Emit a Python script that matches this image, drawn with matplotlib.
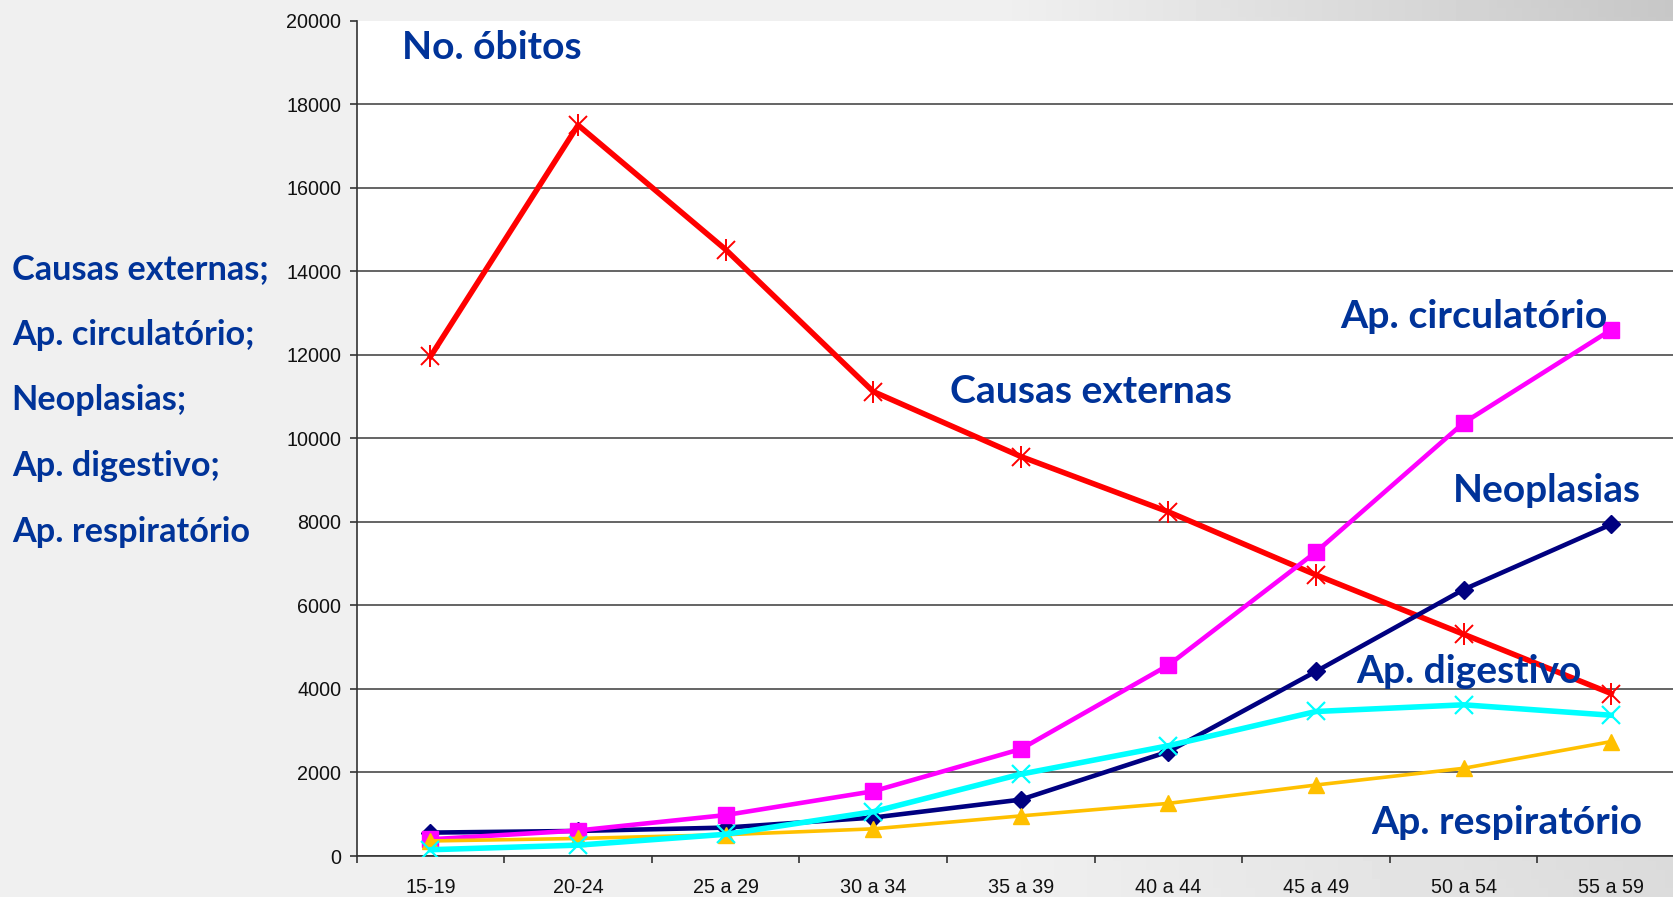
import matplotlib
matplotlib.use("Agg")
import matplotlib.pyplot as plt
import numpy as np

# faixas etarias e numero de obitos por causa
categorias = ['15-19', '20-24', '25 a 29', '30 a 34', '35 a 39',
              '40 a 44', '45 a 49', '50 a 54', '55 a 59']
causas_externas = [11960, 17500, 14520, 11120, 9565, 8240, 6730, 5310, 3890]
ap_circulatorio = [400, 610, 980, 1550, 2560, 4570, 7280, 10370, 12600]
neoplasias = [560, 600, 680, 920, 1350, 2500, 4420, 6380, 7940]
ap_digestivo = [150, 260, 520, 1060, 1960, 2640, 3460, 3620, 3370]
ap_respiratorio = [360, 420, 510, 650, 960, 1260, 1700, 2100, 2740]

W, H = 1673, 897
AZUL = '#003399'

fig = plt.figure(figsize=(W / 100, H / 100), dpi=100)

# fundo cinza claro, mais escuro no canto direito
bg = fig.add_axes([0, 0, 1, 1], zorder=-1)
gx = np.linspace(0, 1, 200)
gy = np.linspace(0, 1, 100)
GX, GY = np.meshgrid(gx, gy)
grad = 0.94 - 0.16 * np.clip((GX - 0.6) / 0.4, 0, 1) * (0.5 + 0.5 * (1 - GY))
bg.imshow(grad, cmap='gray', vmin=0, vmax=1, aspect='auto', extent=[0, 1, 0, 1])
bg.axis('off')

left, right, bottom, top = 356.7, 1685, 856, 20.7
ax = fig.add_axes([left / W, 1 - bottom / H, (right - left) / W, (bottom - top) / H])
ax.set_facecolor('white')

x = np.arange(len(categorias))

ax.plot(x, causas_externas, color='#FF0000', lw=4, zorder=3)
ax.plot(x, causas_externas, ls='none', marker='x', ms=13, mew=1.4, color='#FF0000', zorder=3)
ax.plot(x, causas_externas, ls='none', marker='|', ms=16, mew=1.4, color='#FF0000', zorder=3)
ax.plot(x, neoplasias, color='#000080', lw=3.3, marker='D', ms=9, zorder=4)
ax.plot(x, ap_circulatorio, color='#FF00FF', lw=3.3, marker='s', ms=12, zorder=5)
ax.plot(x, ap_respiratorio, color='#FFC000', lw=2.6, marker='^', ms=11, zorder=6)
ax.plot(x, ap_digestivo, color='#00FFFF', lw=4, marker='x', ms=13, mew=1.6, zorder=7)

ax.set_xlim(-0.5, len(categorias) - 0.5)
ax.set_ylim(0, 20000)
ax.set_yticks(np.arange(0, 20001, 2000))
ax.set_xticks(x)
ax.set_xticklabels(categorias)
ax.set_xticks(np.arange(-0.5, len(categorias), 1), minor=True)

ax.yaxis.grid(True, color='#4a4a4a', lw=1.2)
ax.get_ygridlines()[-1].set_visible(False)
ax.set_axisbelow(True)

for s in ['top', 'right']:
    ax.spines[s].set_visible(False)
for s in ['left', 'bottom']:
    ax.spines[s].set_color('#333333')
    ax.spines[s].set_linewidth(1.2)

ax.tick_params(axis='x', which='major', length=0, pad=16, labelsize=14.2)
ax.tick_params(axis='x', which='minor', length=5, width=1.2, color='#333333')
ax.tick_params(axis='y', length=5, width=1.2, color='#333333', pad=6, labelsize=14.2)
for lab in ax.get_xticklabels() + ax.get_yticklabels():
    lab.set_fontfamily('Liberation Sans')
    lab.set_color('#111111')


def rotulo(px, py, texto, tam):
    fig.text(px / W, 1 - py / H, texto, ha='left', va='baseline',
             fontsize=tam, fontweight='bold', family='Lato', color=AZUL)


rotulo(402, 59, 'No. óbitos', 28.2)

lista = ['Causas externas;', 'Ap. circulatório;', 'Neoplasias;',
         'Ap. digestivo;', 'Ap. respiratório']
for i, t in enumerate(lista):
    rotulo(11.7, 279 + i * 65.7, t, 24.7)

rotulo(950, 403, 'Causas externas', 28.2)
rotulo(1340, 328, 'Ap. circulatório', 28.3)
rotulo(1453, 501.7, 'Neoplasias', 28)
rotulo(1356, 683, 'Ap. digestivo', 28)
rotulo(1371, 834, 'Ap. respiratório', 28.2)

fig.savefig('out.png', dpi=100)
